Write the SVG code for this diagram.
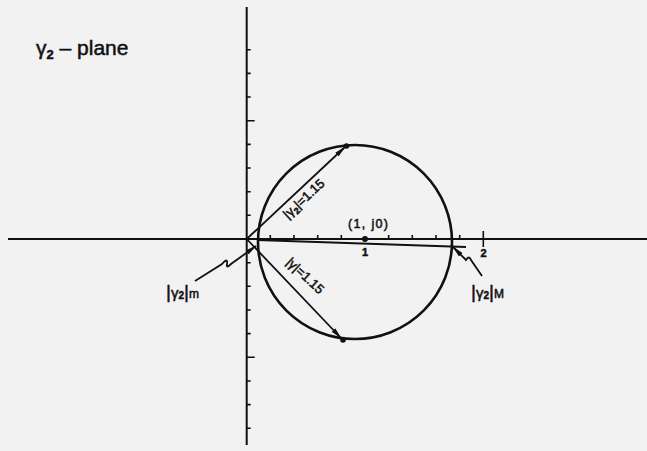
<svg xmlns="http://www.w3.org/2000/svg" width="647" height="451" viewBox="0 0 647 451">
<style>
.ax{stroke:#111;stroke-width:2;fill:none}
.tk{stroke:#111;stroke-width:1.6;fill:none}
.cv{stroke:#111;stroke-width:2.6;fill:none}
.ln{stroke:#111;stroke-width:1.8;fill:none}
.lb{font-family:"Liberation Sans",Arial,sans-serif;fill:#111;stroke:#111;stroke-width:0.5}
.dot{fill:#111}
</style>
<defs>
<marker id="ah" viewBox="0 0 12 6" markerWidth="12" markerHeight="6" refX="11" refY="3" orient="auto" markerUnits="userSpaceOnUse">
<path d="M0,0.5 L12,3 L0,5.5 z" fill="#111"/>
</marker>
</defs>
<rect width="647" height="451" fill="#f2f2f2"/>
<g id="axes">
<line class="ax" x1="8" y1="239" x2="647" y2="239"/>
<line class="ax" x1="246.7" y1="7" x2="246.7" y2="445"/>
<path class="tk" d="M270.3,239v-4M294,239v-4M317.7,239v-4M341.3,239v-4M388.7,239v-4M412.3,239v-4M436,239v-4M459.7,239v-4M483.3,231v16"/>
<path class="tk" d="M246.7,215.3h4M246.7,191.7h4M246.7,168h4M246.7,144.4h4M246.7,120.7h8M246.7,97h4M246.7,73.4h4M246.7,49.7h4M246.7,262.7h4M246.7,286.3h4M246.7,310h4M246.7,333.6h4M246.7,357.3h8M246.7,381h4M246.7,404.6h4M246.7,428.3h4"/>
<circle class="dot" cx="365" cy="239" r="3"/>
<text class="lb" x="365" y="256" font-size="11" text-anchor="middle" font-weight="bold">1</text>
<text class="lb" x="483.5" y="257" font-size="11" text-anchor="middle" font-weight="bold">2</text>
</g>
<g id="circle">
<circle class="cv" cx="355" cy="242" r="97"/>
<circle class="dot" cx="346.5" cy="146" r="2.8"/>
<circle class="dot" cx="343" cy="340" r="2.8"/>
</g>
<g id="connectors">
<line class="ln" x1="246.7" y1="239" x2="345" y2="147" marker-end="url(#ah)"/>
<line class="ln" x1="246.7" y1="239" x2="341" y2="338" marker-end="url(#ah)"/>
<line class="ln" x1="257" y1="240" x2="466" y2="247"/>
<path class="ln" d="M195,281 L222,264 Q228,257 227,264 Q226,269 231,264 L256,246" marker-end="url(#ah)"/>
<path class="ln" d="M482,276 L471,260 Q469,255 466,260 L453,247" marker-end="url(#ah)"/>
</g>
<g id="labels">
<text class="lb" x="36" y="55" font-size="21">γ<tspan font-size="13" dy="4" font-weight="bold">2</tspan><tspan dy="-4"> – plane</tspan></text>
<text class="lb" x="348" y="228" font-size="12.5" textLength="40" lengthAdjust="spacing">(1, j0)</text>
<text class="lb" font-size="13" text-anchor="middle" transform="translate(304,199) rotate(-43)" y="4">|γ<tspan font-size="9" dy="3" font-weight="bold">2</tspan><tspan dy="-3">|=1.15</tspan></text>
<text class="lb" font-size="13" text-anchor="middle" transform="translate(305,276) rotate(43)" y="4">|γ|=1.15</text>
<text class="lb" x="166" y="298" font-size="19">|<tspan font-size="15">γ</tspan><tspan font-size="10" dy="1" font-weight="bold">2</tspan><tspan dy="-1" font-size="19">|</tspan><tspan font-size="12" dy="0">m</tspan></text>
<text class="lb" x="471" y="298" font-size="19">|<tspan font-size="15">γ</tspan><tspan font-size="10" dy="1" font-weight="bold">2</tspan><tspan dy="-1" font-size="19">|</tspan><tspan font-size="12" dy="0">M</tspan></text>
</g>
</svg>
